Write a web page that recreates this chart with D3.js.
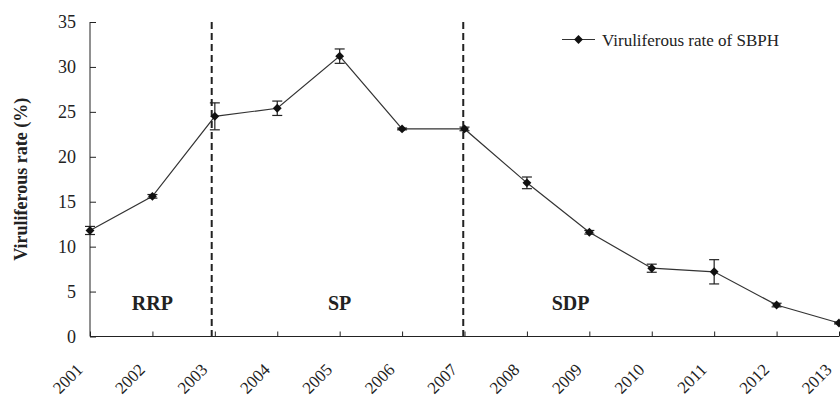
<!DOCTYPE html>
<html>
<head>
<meta charset="utf-8">
<script src="https://cdn.jsdelivr.net/npm/d3@7"></script>
<style>
  body { margin: 0; background: #fff; }
  svg { display: block; }
  svg text { font-family: "Liberation Serif", "Times New Roman", serif; }
</style>
</head>
<body>
<div id="chart"></div>
<script>

// data
var years = [2001, 2002, 2003, 2004, 2005, 2006, 2007, 2008, 2009, 2010, 2011, 2012, 2013]
var rates = [11.8, 15.6, 24.5, 25.4, 31.2, 23.1, 23.1, 17.1, 11.6, 7.6, 7.2, 3.5, 1.5]
var errors = [0.45, 0.2, 1.5, 0.8, 0.8, 0.1, 0.2, 0.65, 0.2, 0.45, 1.35, 0.2, 0.1]
var y_ticks = [0, 5, 10, 15, 20, 25, 30, 35]
var period_breaks = [2002.95, 2006.98]
var periods = [
  {name: "RRP", year: 2002.0},
  {name: "SP", year: 2005.0},
  {name: "SDP", year: 2008.7}
]
var series_name = "Viruliferous rate of SBPH"
var y_title = "Viruliferous rate (%)"

var width = 840, height = 399

var svg = d3.select("#chart").append("svg")
  .attr("width", width)
  .attr("height", height)

// scales
var x = d3.scaleLinear().domain([2001, 2013]).range([90, 839])
var y = d3.scaleLinear().domain([0, 35]).range([336.5, 22])

var ink = "#222"

// y axis
var y_axis = svg.append("g")
  .attr("transform", "translate(" + x(2001) + ",0)")
  .call(d3.axisRight(y).tickValues(y_ticks).tickSize(6).tickFormat(d3.format("d")))
y_axis.select(".domain").attr("stroke", ink).attr("d", "M0," + y(35) + "V" + y(0))
y_axis.selectAll(".tick line").attr("stroke", ink)
y_axis.selectAll(".tick text")
  .attr("x", -14)
  .attr("text-anchor", "end")
  .attr("fill", ink)
  .style("font-size", "18px")

// x axis
var x_axis = svg.append("g")
  .attr("transform", "translate(0," + y(0) + ")")
  .call(d3.axisTop(x).tickValues(years).tickSize(5).tickFormat(d3.format("d")))
x_axis.select(".domain").attr("stroke", ink).attr("d", "M" + x(2001) + ",0H" + x(2013))
x_axis.selectAll(".tick line").attr("stroke", ink)
x_axis.selectAll(".tick text")
  .attr("fill", ink)
  .style("font-size", "17px")
  .attr("text-anchor", "end")
  .attr("transform", "translate(-11,30) rotate(-45)")
  .attr("x", 0)
  .attr("y", 0)
  .attr("dy", "0.35em")

// y axis title
svg.append("text")
  .attr("transform", "translate(27," + y(17.5) + ") rotate(-90)")
  .attr("text-anchor", "middle")
  .style("font-size", "18px")
  .style("font-weight", "bold")
  .attr("fill", ink)
  .text(y_title)

// dashed period separators
svg.selectAll(".period-line")
  .data(period_breaks)
  .enter().append("line")
  .attr("class", "period-line")
  .attr("x1", function(d){ return x(d) })
  .attr("x2", function(d){ return x(d) })
  .attr("y1", y(35))
  .attr("y2", y(0))
  .attr("stroke", ink)
  .attr("stroke-width", 2)
  .attr("stroke-dasharray", "7,4")

// period labels
svg.selectAll(".period-label")
  .data(periods)
  .enter().append("text")
  .attr("class", "period-label")
  .attr("x", function(d){ return x(d.year) })
  .attr("y", 310)
  .attr("text-anchor", "middle")
  .style("font-size", "20px")
  .style("font-weight", "bold")
  .attr("fill", ink)
  .text(function(d){ return d.name })

var points = years.map(function(d, i){ return {year: d, rate: rates[i], err: errors[i]} })

// line
svg.append("path")
  .datum(points)
  .attr("fill", "none")
  .attr("stroke", "#333")
  .attr("stroke-width", 1.2)
  .attr("d", d3.line().x(function(d){ return x(d.year) }).y(function(d){ return y(d.rate) }))

// error bars
var err = svg.selectAll(".err")
  .data(points)
  .enter().append("g")
  .attr("class", "err")
  .attr("stroke", ink)
  .attr("stroke-width", 1.2)

err.append("line")
  .attr("x1", function(d){ return x(d.year) })
  .attr("x2", function(d){ return x(d.year) })
  .attr("y1", function(d){ return y(d.rate + d.err) })
  .attr("y2", function(d){ return y(d.rate - d.err) })
err.append("line")
  .attr("x1", function(d){ return x(d.year) - 5 })
  .attr("x2", function(d){ return x(d.year) + 5 })
  .attr("y1", function(d){ return y(d.rate + d.err) })
  .attr("y2", function(d){ return y(d.rate + d.err) })
err.append("line")
  .attr("x1", function(d){ return x(d.year) - 5 })
  .attr("x2", function(d){ return x(d.year) + 5 })
  .attr("y1", function(d){ return y(d.rate - d.err) })
  .attr("y2", function(d){ return y(d.rate - d.err) })

// diamond markers
var diamond = d3.symbol().type(d3.symbolDiamond2).size(50)
svg.selectAll(".marker")
  .data(points)
  .enter().append("path")
  .attr("class", "marker")
  .attr("d", diamond)
  .attr("transform", function(d){ return "translate(" + x(d.year) + "," + y(d.rate) + ")" })
  .attr("fill", "#111")

// legend
var legend = svg.append("g").attr("transform", "translate(562,39.5)")
legend.append("line")
  .attr("x1", 0).attr("x2", 33)
  .attr("stroke", "#333").attr("stroke-width", 1.2)
legend.append("path")
  .attr("d", diamond)
  .attr("transform", "translate(16.5,0)")
  .attr("fill", "#111")
legend.append("text")
  .attr("x", 40)
  .attr("y", 6)
  .style("font-size", "17px")
  .attr("fill", ink)
  .text(series_name)

</script>
</body>
</html>
